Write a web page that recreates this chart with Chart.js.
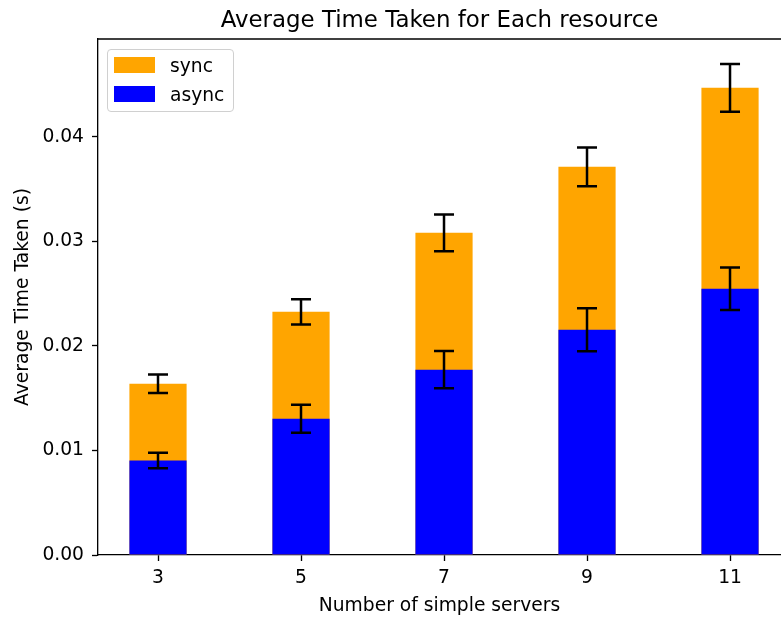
<!DOCTYPE html>
<html lang="en">
<head>
    <meta charset="UTF-8">
    <title>Average Time Taken for Each resource</title>
    <script src="https://cdn.jsdelivr.net/npm/chart.js"></script>
    <style>
        html, body { margin: 0; padding: 0; background: #fff; overflow: hidden; }
        #wrap { position: relative; width: 781px; height: 619px; }
        #legend { position: absolute; left: 107px; top: 49px; width: 125px; height: 61px; border: 1px solid #d0d0d0; border-radius: 4px; background: rgba(255,255,255,0.8); font-family: "DejaVu Sans", sans-serif; font-size: 18.7px; color: #000; }
        .item { position: absolute; left: 6px; height: 16px; }
        .swatch { position: absolute; left: 0; top: 0; width: 41px; height: 16px; }
        .label { position: absolute; left: 56px; top: -2px; line-height: 22px; white-space: nowrap; }
    </style>
</head>
<body>
    <div id="wrap">
        <canvas id="timeChart" width="781" height="619"></canvas>
        <div id="legend"></div>
    </div>

    <script>
        // values
        const servers = [3, 5, 7, 9, 11];
        const syncMean = [0.01638, 0.02326, 0.03081, 0.03712, 0.04468];
        const syncErr = [0.00088, 0.00121, 0.00175, 0.00186, 0.00228];
        const asyncMean = [0.00904, 0.01303, 0.01772, 0.02154, 0.02546];
        const asyncErr = [0.00075, 0.00134, 0.00178, 0.00206, 0.00204];
        const yTicks = [0, 0.01, 0.02, 0.03, 0.04];
        const seriesNames = ['sync', 'async'];
        const seriesColors = ['#ffa500', '#0000ff'];

        Chart.defaults.font.family = '"DejaVu Sans", sans-serif';
        Chart.defaults.color = '#000';

        // legend box like matplotlib's
        const legend = document.getElementById('legend');
        seriesNames.forEach((name, i) => {
            let item = document.createElement('div');
            item.className = 'item';
            item.style.top = (7 + i * 29) + 'px';
            item.innerHTML = `<div class="swatch" style="background:${seriesColors[i]}"></div><div class="label">${name}</div>`;
            legend.appendChild(item);
        });

        // error bars + top spine
        const errorBars = {
            id: 'errorBars',
            afterDatasetsDraw(chart) {
                const { ctx, chartArea, scales: { x, y } } = chart;
                ctx.save();
                ctx.strokeStyle = '#000';
                ctx.lineWidth = 2.5;
                [[syncMean, syncErr], [asyncMean, asyncErr]].forEach(([mean, err]) => {
                    servers.forEach((s, i) => {
                        const px = x.getPixelForValue(s);
                        const top = y.getPixelForValue(mean[i] + err[i]);
                        const bot = y.getPixelForValue(mean[i] - err[i]);
                        ctx.beginPath();
                        ctx.moveTo(px, top); ctx.lineTo(px, bot);
                        ctx.moveTo(px - 10, top); ctx.lineTo(px + 10, top);
                        ctx.moveTo(px - 10, bot); ctx.lineTo(px + 10, bot);
                        ctx.stroke();
                    });
                });
                ctx.lineWidth = 1.33;
                ctx.beginPath();
                ctx.moveTo(chartArea.left, chartArea.top);
                ctx.lineTo(chartArea.right, chartArea.top);
                ctx.stroke();
                ctx.restore();
            }
        };

        const axisFont = { size: 18.7, lineHeight: 1.2 };

        new Chart(document.getElementById('timeChart'), {
            type: 'bar',
            data: {
                datasets: [
                    {
                        label: seriesNames[0],
                        data: servers.map((s, i) => ({ x: s, y: syncMean[i] })),
                        backgroundColor: seriesColors[0],
                        borderWidth: 0,
                        order: 1
                    },
                    {
                        label: seriesNames[1],
                        data: servers.map((s, i) => ({ x: s, y: asyncMean[i] })),
                        backgroundColor: seriesColors[1],
                        borderWidth: 0,
                        order: 0
                    }
                ]
            },
            options: {
                responsive: false,
                animation: false,
                layout: { padding: 0 },
                datasets: { bar: { barPercentage: 0.4, categoryPercentage: 1 } },
                plugins: {
                    legend: { display: false },
                    tooltip: { enabled: false },
                    title: {
                        display: true,
                        text: 'Average Time Taken for Each resource',
                        fullSize: false,
                        font: { size: 22.9, weight: 'normal', lineHeight: 1.2 },
                        color: '#000',
                        padding: { top: 7, bottom: 4.5 }
                    }
                },
                scales: {
                    x: {
                        type: 'linear',
                        stacked: true,
                        offset: false,
                        min: 2.1608,
                        max: 11.713,
                        afterBuildTicks: (scale) => { scale.ticks = servers.map(v => ({ value: v })); },
                        afterFit: (scale) => { scale.height = 64; },
                        grid: { offset: false, drawOnChartArea: false, tickLength: 6, tickWidth: 1.33, tickColor: '#000' },
                        border: { display: true, color: '#000', width: 1.33 },
                        ticks: { font: axisFont, padding: 6, maxRotation: 0, callback: v => String(v) },
                        title: { display: true, text: 'Number of simple servers', font: axisFont, padding: { top: 0, bottom: 2 } }
                    },
                    y: {
                        stacked: false,
                        min: 0,
                        max: 0.04935,
                        afterBuildTicks: (scale) => { scale.ticks = yTicks.map(v => ({ value: v })); },
                        afterFit: (scale) => { scale.width = 98; },
                        grid: { offset: false, drawOnChartArea: false, tickLength: 6, tickWidth: 1.33, tickColor: '#000' },
                        border: { display: true, color: '#000', width: 1.33 },
                        ticks: { font: axisFont, padding: 8, callback: v => v.toFixed(2) },
                        title: { display: true, text: 'Average Time Taken (s)', font: axisFont, padding: { top: 12, bottom: 0 } }
                    }
                }
            },
            plugins: [errorBars]
        });
    </script>
</body>
</html>
